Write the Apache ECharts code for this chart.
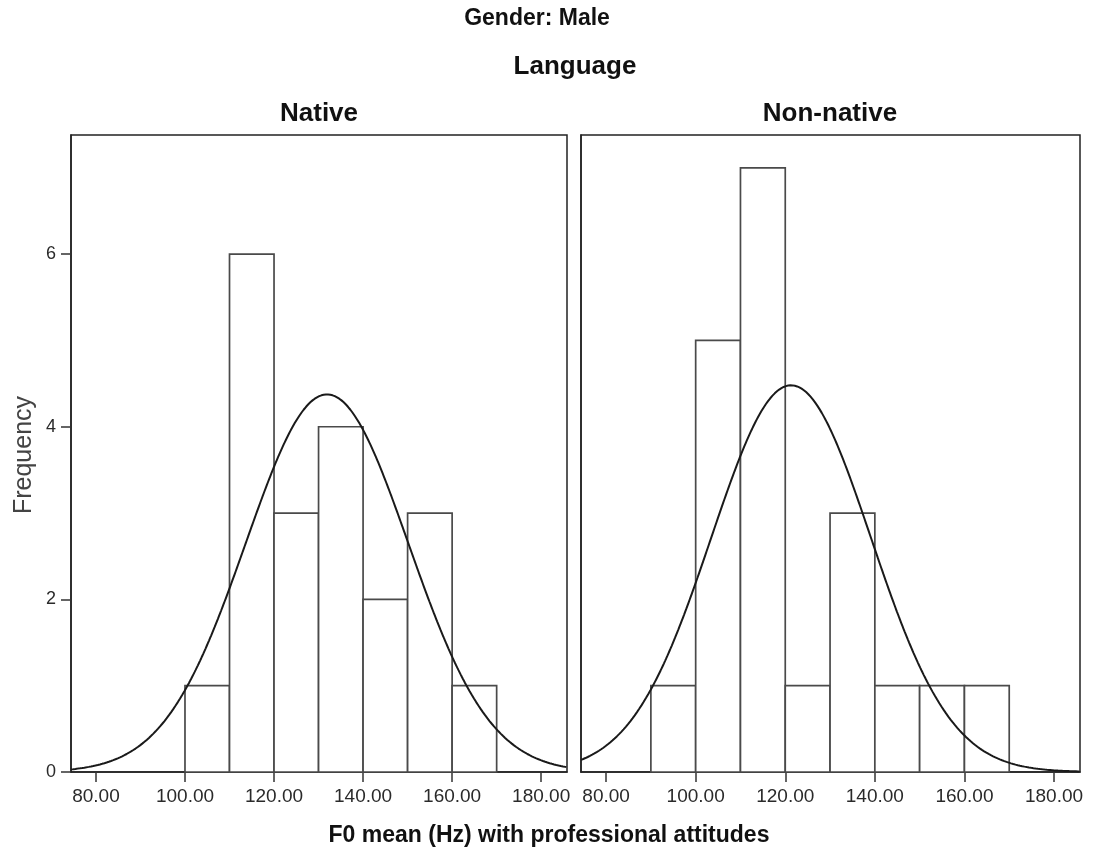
<!DOCTYPE html>
<html>
<head>
<meta charset="utf-8">
<script src="https://cdn.jsdelivr.net/npm/echarts@6/dist/echarts.min.js"></script>
<style>
html,body{margin:0;padding:0;background:#fff;}
#chart{width:1093px;height:856px;}
</style>
</head>
<body>
<div id="chart"></div>
<script>
// ---- data ----
const binWidth = 10;
const nativeBinStarts = [100, 110, 120, 130, 140, 150, 160];
const nativeCounts = [1, 6, 3, 4, 2, 3, 1];
const nonNativeBinStarts = [90, 100, 110, 120, 130, 140, 150, 160];
const nonNativeCounts = [1, 5, 7, 1, 3, 1, 1, 1];
// fitted normal curve parameters
const nativeMean = 131.9, nativeSD = 18.24, nativeN = 20;
const nonNativeMean = 121.3, nonNativeSD = 17.81, nonNativeN = 20;
const xTicks = [80, 100, 120, 140, 160, 180];
const yTicks = [0, 2, 4, 6];
const xMin = 74.4, xMax = 185.8, yMax = 7.38;
const panelTitles = ['Native', 'Non-native'];

function binData(starts, counts) {
  return starts.map((s, i) => [s, s + binWidth, counts[i]]);
}
function normalCurve(mean, sd, n) {
  const pts = [];
  for (let x = xMin; x <= xMax + 1e-9; x += 0.25) {
    const z = (x - mean) / sd;
    pts.push([x, n * binWidth * Math.exp(-0.5 * z * z) / (sd * Math.sqrt(2 * Math.PI))]);
  }
  return pts;
}

const baseFont = 'Liberation Sans, Arial, sans-serif';
const tickFont = { fontFamily: baseFont, fontSize: 19, color: '#2a2a2a' };

function makeXAxis(gi) {
  return {
    type: 'value', gridIndex: gi, min: xMin, max: xMax,
    axisLine: { show: true, lineStyle: { color: '#222', width: 1.5 } },
    axisTick: { show: true, inside: false, customValues: xTicks, length: 10, lineStyle: { color: '#333', width: 1.5 } },
    axisLabel: Object.assign({ show: true, customValues: xTicks, margin: 15,
      formatter: v => v.toFixed(2) }, tickFont),
    splitLine: { show: false }
  };
}
function makeYAxis(gi, showLabels) {
  return {
    type: 'value', gridIndex: gi, min: 0, max: yMax,
    axisLine: { show: true, lineStyle: { color: '#222', width: 1.5 } },
    axisTick: { show: showLabels, inside: false, customValues: yTicks, length: 10, lineStyle: { color: '#333', width: 1.5 } },
    axisLabel: Object.assign({ show: showLabels, customValues: yTicks, margin: 15 }, tickFont, { fontSize: 18 }),
    splitLine: { show: false }
  };
}

function histSeries(gi, data) {
  return {
    type: 'custom', xAxisIndex: gi, yAxisIndex: gi,
    data: data,
    renderItem: function (params, api) {
      const p0 = api.coord([api.value(0), api.value(2)]);
      const p1 = api.coord([api.value(1), 0]);
      return {
        type: 'rect',
        shape: { x: p0[0], y: p0[1], width: p1[0] - p0[0], height: p1[1] - p0[1] },
        style: { fill: '#fff', stroke: '#4a4a4a', lineWidth: 1.7 }
      };
    },
    z: 2
  };
}
function curveSeries(gi, data) {
  return {
    type: 'line', xAxisIndex: gi, yAxisIndex: gi, data: data,
    showSymbol: false, symbol: 'none', smooth: false, clip: true,
    lineStyle: { color: '#1a1a1a', width: 2 }, z: 3, silent: true
  };
}

const chart = echarts.init(document.getElementById('chart'), null, { renderer: 'canvas' });
chart.setOption({
  animation: false,
  backgroundColor: '#fff',
  grid: [
    { left: 71, top: 135, width: 496, height: 637, show: true, borderColor: '#222', borderWidth: 1.5, backgroundColor: '#fff' },
    { left: 581, top: 135, width: 499, height: 637, show: true, borderColor: '#222', borderWidth: 1.5, backgroundColor: '#fff' }
  ],
  xAxis: [makeXAxis(0), makeXAxis(1)],
  yAxis: [makeYAxis(0, true), makeYAxis(1, false)],
  series: [
    histSeries(0, binData(nativeBinStarts, nativeCounts)),
    curveSeries(0, normalCurve(nativeMean, nativeSD, nativeN)),
    histSeries(1, binData(nonNativeBinStarts, nonNativeCounts)),
    curveSeries(1, normalCurve(nonNativeMean, nonNativeSD, nonNativeN))
  ],
  graphic: [
    { type: 'text', x: 537, y: 19, style: { text: 'Gender: Male', font: 'bold 23px ' + baseFont, fill: '#111', textAlign: 'center', textVerticalAlign: 'middle' } },
    { type: 'text', x: 575, y: 67, style: { text: 'Language', font: 'bold 26px ' + baseFont, fill: '#111', textAlign: 'center', textVerticalAlign: 'middle' } },
    { type: 'text', x: 319, y: 114, style: { text: panelTitles[0], font: 'bold 26px ' + baseFont, fill: '#111', textAlign: 'center', textVerticalAlign: 'middle' } },
    { type: 'text', x: 830, y: 114, style: { text: panelTitles[1], font: 'bold 26px ' + baseFont, fill: '#111', textAlign: 'center', textVerticalAlign: 'middle' } },
    { type: 'text', x: 549, y: 836, style: { text: 'F0 mean (Hz) with professional attitudes', font: 'bold 23px ' + baseFont, fill: '#111', textAlign: 'center', textVerticalAlign: 'middle' } },
    { type: 'text', x: 24, y: 455, rotation: Math.PI / 2, style: { text: 'Frequency', font: '25px ' + baseFont, fill: '#444', textAlign: 'center', textVerticalAlign: 'middle' } }
  ]
});
</script>
</body>
</html>
